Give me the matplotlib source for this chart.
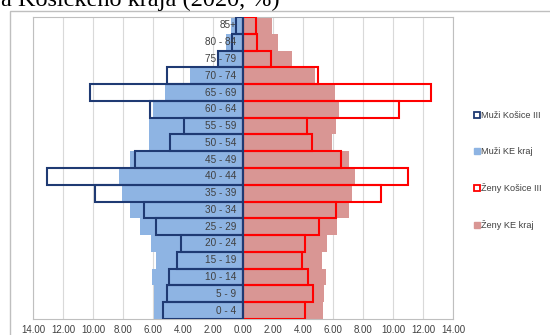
import matplotlib
matplotlib.use("Agg")
import matplotlib.pyplot as plt
from matplotlib.patches import Rectangle
from matplotlib.lines import Line2D
import numpy as np

plt.rcParams['font.family'] = ['Liberation Sans', 'DejaVu Sans']

age_groups = ["0 - 4", "5 - 9", "10 - 14", "15 - 19", "20 - 24", "25 - 29", "30 - 34",
              "35 - 39", "40 - 44", "45 - 49", "50 - 54", "55 - 59", "60 - 64",
              "65 - 69", "70 - 74", "75 - 79", "80 - 84", "85+"]
men_kosice3 = [5.33, 5.04, 4.96, 4.40, 4.11, 5.78, 6.58, 9.87, 13.07, 7.22, 4.84, 3.93,
               6.20, 10.20, 5.07, 1.67, 0.73, 0.49]
men_ke = [5.93, 5.96, 6.04, 5.78, 6.11, 6.84, 7.56, 8.09, 8.27, 7.56, 6.29, 6.29,
          6.00, 5.18, 3.51, 1.71, 1.16, 0.78]
women_kosice3 = [4.13, 4.67, 4.31, 3.91, 4.13, 5.09, 6.18, 9.22, 11.02, 6.51, 4.58, 4.27,
                 10.38, 12.51, 5.00, 1.84, 0.93, 0.84]
women_ke = [5.33, 5.40, 5.53, 5.24, 5.60, 6.27, 7.04, 7.27, 7.44, 7.07, 5.96, 6.22,
            6.38, 6.13, 4.82, 3.29, 2.33, 1.96]
x_ticks = [-14, -12, -10, -8, -6, -4, -2, 0, 2, 4, 6, 8, 10, 12, 14]
legend_labels = ["Muži Košice III", "Muži KE kraj", "Ženy Košice III", "Ženy KE kraj"]
title_text = "a Košického kraja (2020, %)"

C_MEN_FILL = "#8EB4E3"
C_WOM_FILL = "#D99694"
C_MEN_LINE = "#1F3A73"
C_WOM_LINE = "#FF0000"

W, H = 550, 335
fig = plt.figure(figsize=(5.5, 3.35), dpi=100)
fig.patch.set_facecolor("white")

# outer chart border
fig.patches.append(Rectangle((10 / W, -0.1), 1.0, (335 - 11) / H + 0.1,
                             transform=fig.transFigure, fill=False,
                             edgecolor="#BFBFBF", linewidth=1.0))

ax = fig.add_axes([33 / W, (H - 319) / H, 420 / W, 302 / H])
y = np.arange(len(age_groups))
ax.barh(y, -np.array(men_ke), height=1.0, color=C_MEN_FILL, zorder=2)
ax.barh(y, women_ke, height=1.0, color=C_WOM_FILL, zorder=2)
ax.barh(y, -np.array(men_kosice3), height=1.0, fill=False, edgecolor=C_MEN_LINE,
        linewidth=1.5, zorder=3)
ax.barh(y, women_kosice3, height=1.0, fill=False, edgecolor=C_WOM_LINE,
        linewidth=1.5, zorder=3)
ax.axvline(0, color=C_MEN_LINE, linewidth=1.5, zorder=4)

ax.set_xlim(-14, 14)
ax.set_ylim(-0.5, len(age_groups) - 0.5)
ax.set_xticks(x_ticks)
ax.set_xticklabels([f"{abs(v):.2f}" for v in x_ticks], fontsize=7, color="#404040")
ax.set_yticks([])
ax.tick_params(axis='x', length=0, pad=4)
ax.grid(axis='x', color="#D9D9D9", linewidth=0.8, zorder=0)
ax.set_axisbelow(True)
for s in ax.spines.values():
    s.set_color("#BFBFBF")
    s.set_linewidth(0.8)

for yi, lab in zip(y, age_groups):
    ax.text(-0.45, yi, lab, ha="right", va="center", fontsize=7.2, color="#404040", zorder=5)

handles = [
    Line2D([], [], marker="s", linestyle="none", markersize=4.5, markerfacecolor="white",
           markeredgecolor=C_MEN_LINE, markeredgewidth=1.3),
    Line2D([], [], marker="s", linestyle="none", markersize=4, markerfacecolor=C_MEN_FILL,
           markeredgecolor=C_MEN_FILL),
    Line2D([], [], marker="s", linestyle="none", markersize=4.5, markerfacecolor="white",
           markeredgecolor=C_WOM_LINE, markeredgewidth=1.3),
    Line2D([], [], marker="s", linestyle="none", markersize=4, markerfacecolor=C_WOM_FILL,
           markeredgecolor=C_WOM_FILL),
]
fig.legend(handles, legend_labels, loc="upper left", bbox_to_anchor=(474 / W, (H - 111) / H),
           frameon=False, fontsize=6.6, handlelength=0.6, handletextpad=0.2,
           labelspacing=2.95, labelcolor="#404040", borderaxespad=0, borderpad=0)

fig.text(1 / W, (H - 6) / H, title_text, family=["Liberation Serif"], fontsize=17.5,
         ha="left", va="baseline", color="black")

fig.savefig("out.png", dpi=100)
